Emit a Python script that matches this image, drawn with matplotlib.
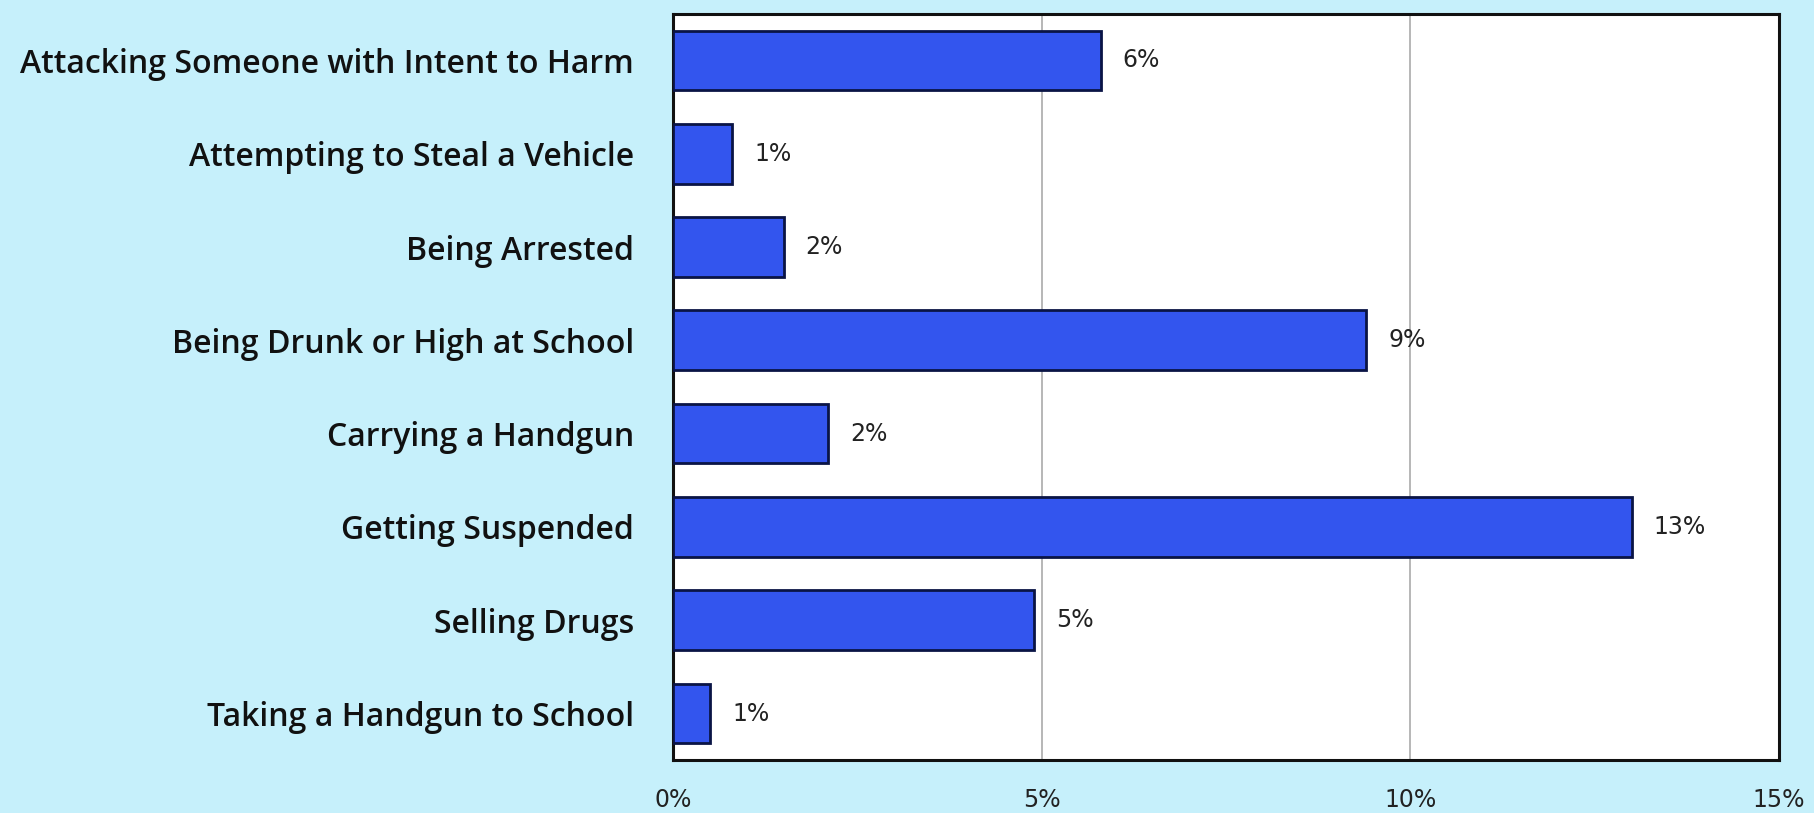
import matplotlib
matplotlib.use("Agg")
import matplotlib.pyplot as plt

categories = [
    "Attacking Someone with Intent to Harm",
    "Attempting to Steal a Vehicle",
    "Being Arrested",
    "Being Drunk or High at School",
    "Carrying a Handgun",
    "Getting Suspended",
    "Selling Drugs",
    "Taking a Handgun to School",
]
values = [5.8, 0.8, 1.5, 9.4, 2.1, 13.0, 4.9, 0.5]
value_labels = ["6%", "1%", "2%", "9%", "2%", "13%", "5%", "1%"]
x_ticks = [0, 5, 10, 15]
x_tick_labels = ["0%", "5%", "10%", "15%"]

bg = "#C6F0FB"
fig = plt.figure(figsize=(18.14, 8.13), dpi=100, facecolor=bg)
ax = fig.add_axes([0.371, 0.065, 0.6097, 0.918])
ax.set_facecolor("white")

ypos = list(range(len(categories)))
ax.barh(ypos, values, height=0.64, color="#3355EE", edgecolor="#0A1445", linewidth=2, zorder=3)
for y, v, lab in zip(ypos, values, value_labels):
    ax.text(v + 0.3, y, lab, va="center", ha="left", fontsize=17, color="#222222",
            family="DejaVu Sans", zorder=4)

ax.set_xlim(0, 15)
ax.set_ylim(len(categories) - 0.5, -0.5)
ax.set_yticks(ypos)
ax.set_yticklabels(categories, fontsize=23, color="#111111", family="Open Sans", fontweight="semibold")
ax.set_xticks(x_ticks)
ax.set_xticklabels(x_tick_labels, fontsize=17, color="#222222")
ax.tick_params(axis="both", length=0)
ax.tick_params(axis="y", pad=28)
ax.tick_params(axis="x", pad=20)
ax.xaxis.grid(True, color="#AAAAAA", linewidth=1.2, zorder=0)
ax.set_axisbelow(True)
for s in ax.spines.values():
    s.set_color("#111111")
    s.set_linewidth(2.2)

fig.savefig("out.png", dpi=100, facecolor=bg)
